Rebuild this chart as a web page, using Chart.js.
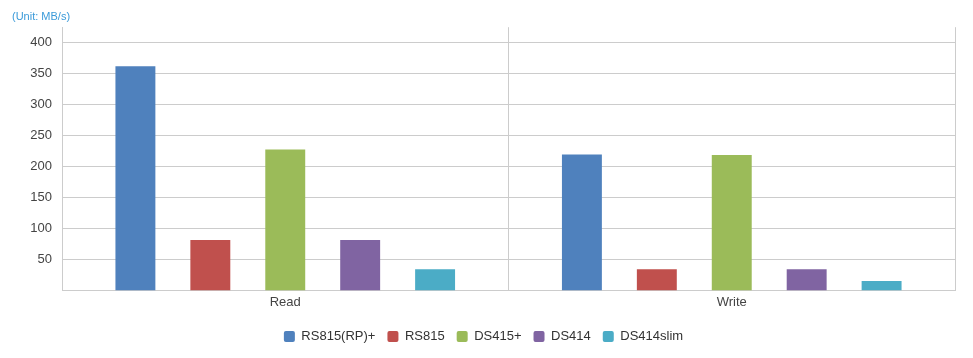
<!DOCTYPE html>
<html><head><meta charset="utf-8">
<script src="https://cdn.jsdelivr.net/npm/chart.js@4"></script>
<style>html,body{margin:0;padding:0;background:#fff}#w{width:973px;height:358px}</style>
</head><body><div id="w"><canvas id="c"></canvas></div>
<script>
const categories = ["Read", "Write"];
const seriesNames = ["RS815(RP)+", "RS815", "DS415+", "DS414", "DS414slim"];
const rs815rp = [361, 219];
const rs815 = [81, 34];
const ds415 = [227, 218];
const ds414 = [81, 34];
const ds414slim = [34, 15];
const tickValues = [50, 100, 150, 200, 250, 300, 350, 400];
const colors = ["#4f81bd", "#c0504d", "#9bbb59", "#8064a2", "#4bacc6"];

const seriesData = [rs815rp, rs815, ds415, ds414, ds414slim];
const datasets = seriesNames.map((n, i) => ({
  label: n, data: seriesData[i], backgroundColor: colors[i],
  categoryPercentage: 0.839, barPercentage: 0.533
}));
const FONT = 'Liberation Sans, Arial, sans-serif';

new Chart(document.getElementById('c'), {
  type: 'bar',
  data: { labels: categories, datasets },
  options: {
    responsive: true, maintainAspectRatio: false, animation: false,
    layout: { padding: { left: 12, right: 18, top: 0, bottom: 5 } },
    plugins: {
      title: { display: true, text: '(Unit: MB/s)', align: 'start', color: '#3a9ad9',
        font: { family: FONT, size: 11, weight: 'normal' }, padding: { top: 10, bottom: 4 } },
      legend: { position: 'bottom',
        labels: { boxWidth: 11, boxHeight: 11, useBorderRadius: true, borderRadius: 2,
          color: '#333', padding: 12, font: { family: FONT, size: 13 } } },
      tooltip: { enabled: false }
    },
    scales: {
      x: {
        afterFit: s => { s.height += 4; },
        grid: { offset: true, color: '#cccccc', drawTicks: false },
        border: { color: '#cccccc' },
        ticks: { color: '#444', padding: 4, font: { family: FONT, size: 13 } }
      },
      y: {
        min: 0, max: 424,
        afterBuildTicks: s => { s.ticks = tickValues.map(v => ({ value: v })); },
        afterFit: s => { s.width = 50; },
        grid: { color: '#cccccc', drawTicks: false },
        border: { color: '#cccccc' },
        ticks: { color: '#444', padding: 10, font: { family: FONT, size: 13 } }
      }
    }
  }
});
</script></body></html>
